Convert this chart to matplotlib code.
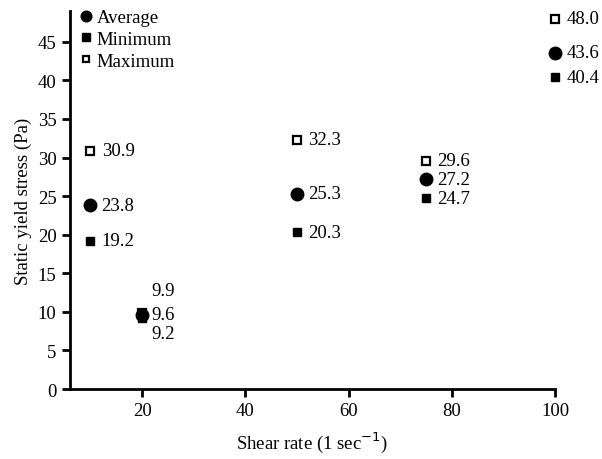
import numpy as np
import matplotlib.pyplot as plt

plt.rcParams['font.family'] = ['Liberation Serif', 'DejaVu Serif']

shear_rate = [10, 20, 50, 75, 100]
average = [23.8, 9.6, 25.3, 27.2, 43.6]
minimum = [19.2, 9.2, 20.3, 24.7, 40.4]
maximum = [30.9, 9.9, 32.3, 29.6, 48.0]

fig = plt.figure(figsize=(6.02, 4.6), dpi=100)
ax = fig.add_axes([0.116, 0.152, 0.806, 0.822])

ax.plot(shear_rate, maximum, 's', ms=5.5, mfc='white', mec='black', mew=1.6,
        ls='none', label='Maximum', zorder=3, clip_on=False)
ax.plot(shear_rate, average, 'o', ms=9, color='black', ls='none',
        label='Average', zorder=4, clip_on=False)
ax.plot(shear_rate, minimum, 's', ms=6, color='black', ls='none',
        label='Minimum', zorder=2, clip_on=False)

# value labels beside each marker; the crowded 20 point gets a stacked layout
for series in (average, minimum, maximum):
    for x, y in zip(shear_rate, series):
        dx, dy = 8, 0
        if x == 20:
            dx = 7
            if series is maximum:
                dy = 16
            elif series is minimum:
                dy = -11
        ax.annotate(f'{y:.1f}', (x, y), xytext=(dx, dy), textcoords='offset points',
                    ha='left', va='center', fontsize=13.5)

handles, labels = ax.get_legend_handles_labels()
order = [1, 2, 0]
ax.legend([handles[i] for i in order], [labels[i] for i in order],
          loc='upper left', bbox_to_anchor=(-0.01, 1.035), frameon=False,
          handletextpad=0.1, handlelength=1.0, borderaxespad=0.2,
          labelspacing=0.25, markerscale=0.85, fontsize=13.5)

ax.set_xlim(6, 100)
ax.set_ylim(0, 49)
ax.set_xticks([20, 40, 60, 80, 100])
ax.set_yticks(np.arange(0, 46, 5))
ax.tick_params(direction='out', width=2, length=6, labelsize=13.5)
for side in ('top', 'right'):
    ax.spines[side].set_visible(False)
for side in ('left', 'bottom'):
    ax.spines[side].set_linewidth(2)

ax.set_xlabel('Shear rate (1 sec$^{-1}$)', fontsize=13.5, labelpad=7)
ax.set_ylabel('Static yield stress (Pa)', fontsize=13.5)

fig.savefig('out.png', dpi=100)
